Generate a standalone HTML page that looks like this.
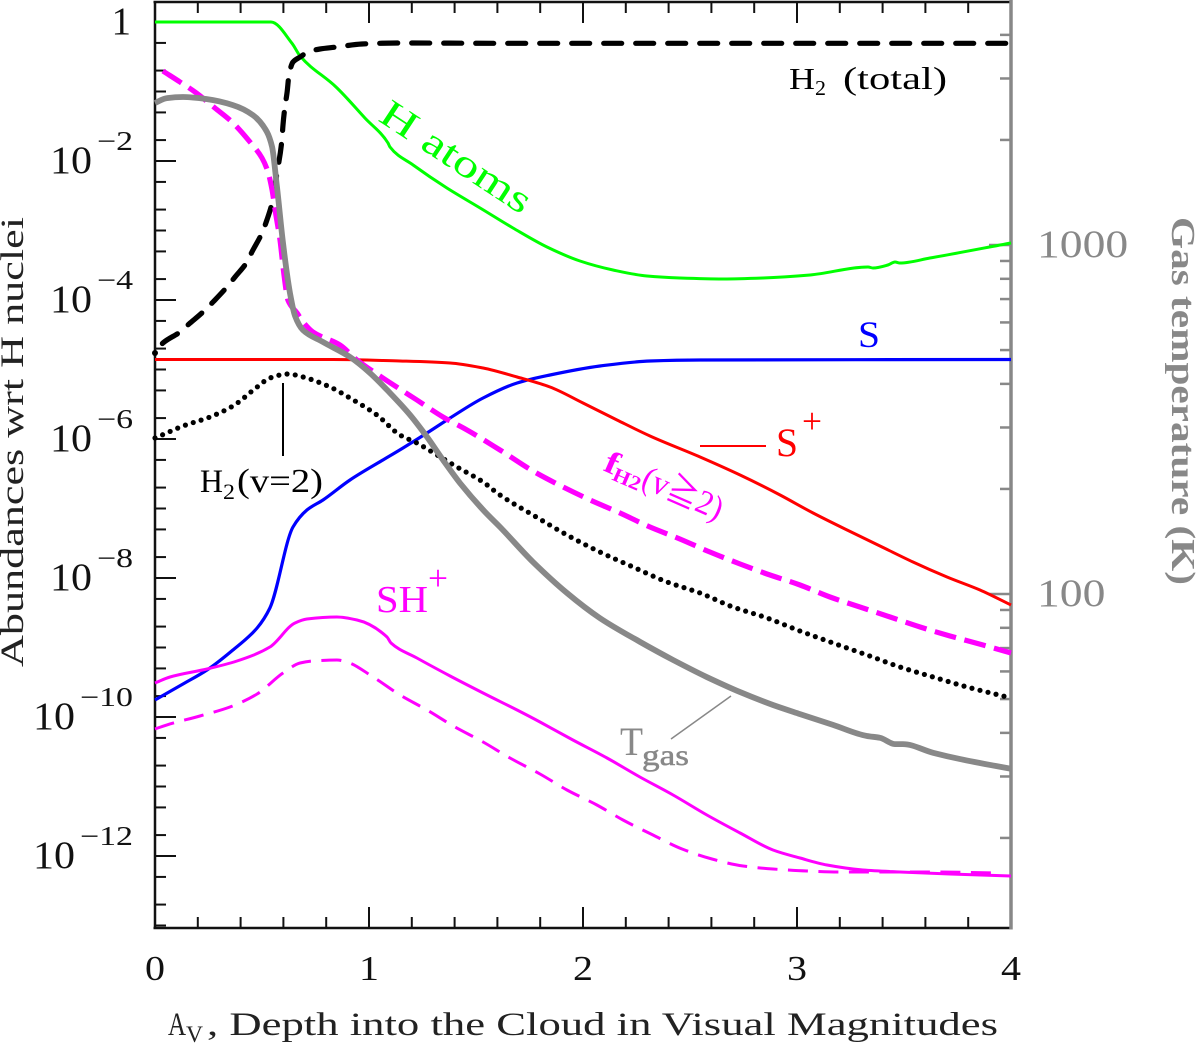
<!DOCTYPE html>
<html lang="en">
<head>
<meta charset="utf-8">
<title>Abundances vs depth into the cloud</title>
<style>
  html,body{margin:0;padding:0;background:#fff;width:1200px;height:1044px;overflow:hidden}
  svg{display:block}
  text{font-family:"Liberation Serif","DejaVu Serif","Noto Sans CJK JP",serif}
</style>
</head>
<body>
<svg id="chart" xmlns="http://www.w3.org/2000/svg" width="1200" height="1044" viewBox="0 0 1200 1044">
  <g id="ticks"></g>
  <g id="tick-labels"></g>
  <g id="series"></g>

  <text x="168" y="1035" font-size="33" fill="#222" textLength="18" lengthAdjust="spacingAndGlyphs">A</text>
  <text x="186" y="1042" font-size="23" fill="#222" textLength="17" lengthAdjust="spacingAndGlyphs">V</text>
  <text x="207" y="1035" font-size="33" fill="#222" textLength="791" lengthAdjust="spacingAndGlyphs">, Depth into the Cloud in Visual Magnitudes</text>

  <text transform="translate(23,667) rotate(-90)" font-size="33" fill="#222" textLength="450" lengthAdjust="spacingAndGlyphs">Abundances wrt H nuclei</text>
  <text transform="translate(1172,217) rotate(90)" font-size="34" font-weight="bold" fill="#888" textLength="368" lengthAdjust="spacingAndGlyphs">Gas temperature (K)</text>

  <g fill="#000">
    <text x="789" y="89" font-size="31" textLength="26" lengthAdjust="spacingAndGlyphs">H</text>
    <text x="815" y="95" font-size="21" textLength="11" lengthAdjust="spacingAndGlyphs">2</text>
    <text x="843" y="89" font-size="32" textLength="104" lengthAdjust="spacingAndGlyphs">(total)</text>
  </g>
  <text transform="translate(377,120) rotate(33.3)" font-size="39" fill="#00ff00" textLength="173" lengthAdjust="spacingAndGlyphs">H atoms</text>
  <text x="858" y="347" font-size="37" fill="#0000ff" textLength="22" lengthAdjust="spacingAndGlyphs">S</text>

  <g fill="#ff0000">
    <line x1="700" y1="446" x2="766" y2="446" stroke="#ff0000" stroke-width="2"/>
    <text x="776" y="456" font-size="40" textLength="22" lengthAdjust="spacingAndGlyphs">S</text>
    <text x="802" y="433" font-size="36" textLength="20" lengthAdjust="spacingAndGlyphs">+</text>
  </g>
  <g fill="#ff00ff">
    <text x="376" y="612" font-size="38" textLength="52" lengthAdjust="spacingAndGlyphs">SH</text>
    <text x="428" y="590" font-size="36" textLength="20" lengthAdjust="spacingAndGlyphs">+</text>
  </g>
  <g fill="#000">
    <line x1="283" y1="383" x2="283" y2="456" stroke="#000" stroke-width="2"/>
    <text x="200" y="492" font-size="33" textLength="23" lengthAdjust="spacingAndGlyphs">H</text>
    <text x="223" y="499" font-size="22" textLength="12" lengthAdjust="spacingAndGlyphs">2</text>
    <text x="237" y="492" font-size="34" textLength="86" lengthAdjust="spacingAndGlyphs">(v=2)</text>
  </g>
  <g fill="#ff00ff" transform="translate(602,470) rotate(23.6)">
    <text x="0" y="0" font-size="32" font-weight="bold" textLength="13" lengthAdjust="spacingAndGlyphs">f</text>
    <text x="12" y="5" font-size="20" font-weight="bold" textLength="29" lengthAdjust="spacingAndGlyphs">H2</text>
    <text x="41" y="0" font-size="34" textLength="85" lengthAdjust="spacingAndGlyphs">(v≧2)</text>
  </g>
  <g fill="#888">
    <line x1="671" y1="739" x2="731" y2="696" stroke="#888" stroke-width="1.5"/>
    <text x="620" y="755" font-size="40" textLength="23" lengthAdjust="spacingAndGlyphs">T</text>
    <text x="642" y="765" font-size="30" stroke="#888" stroke-width="0.5" textLength="47" lengthAdjust="spacingAndGlyphs">gas</text>
  </g>
</svg>
<script>
// ---- axis data ----
var xTickValues = [0,0.2,0.4,0.6,0.8,1,1.2,1.4,1.6,1.8,2,2.2,2.4,2.6,2.8,3,3.2,3.4,3.6,3.8,4];
var xTickLabels = [0,1,2,3,4];
var abundanceDecades = [0,-1,-2,-3,-4,-5,-6,-7,-8,-9,-10,-11,-12,-13];
var abundanceLabelExponents = [0,-2,-4,-6,-8,-10,-12];
var temperatureTicks = [4000,3000,2000,1000,900,800,700,600,500,400,300,200,100,90,80,70,60,50,40,30,20];
var temperatureLabels = [1000,100];

// ---- series data: Av (mag) and log10 abundance / log10 T ----
var hAtomsAv = [0,.542,.640,.678,.846,.981,1.089,1.098,1.206,1.364,1.519,1.673,1.832,1.986,2.140,2.299,2.453,2.654,2.841,3.061,3.332,3.355,3.425,3.458,3.481,3.621,4];
var hAtomsLog = [0,0,-.306,-.489,-.935,-1.381,-1.741,-1.799,-2.058,-2.388,-2.676,-2.964,-3.237,-3.439,-3.568,-3.655,-3.683,-3.698,-3.683,-3.640,-3.525,-3.540,-3.496,-3.453,-3.468,-3.396,-3.180];

var sAtomAv = [0,.131,.243,.364,.477,.537,.645,.710,.785,.911,1.065,1.159,1.271,1.379,1.533,1.692,1.846,2.079,2.313,2.547,4];
var sAtomLog = [-9.755,-9.525,-9.324,-9.036,-8.719,-8.432,-7.266,-7.022,-6.877,-6.590,-6.302,-6.129,-5.914,-5.698,-5.410,-5.194,-5.079,-4.950,-4.878,-4.863,-4.856];

var sPlusAv = [0,.832,1.145,1.379,1.533,1.692,1.846,2.0,2.159,2.313,2.547,2.734,2.921,3.075,3.234,3.388,3.542,3.701,3.855,4];
var sPlusLog = [-4.856,-4.856,-4.878,-4.906,-4.978,-5.108,-5.252,-5.482,-5.726,-5.957,-6.259,-6.518,-6.806,-7.065,-7.309,-7.539,-7.770,-7.986,-8.173,-8.388];

var h2v2Av = [0,.033,.131,.257,.364,.477,.537,.621,.692,.818,.911,1.037,1.145,1.224,1.318,1.411,1.533,1.612,1.766,1.925,2.079,2.234,2.393,2.547,2.701,2.860,3.014,3.168,3.327,3.481,3.636,3.795,4];
var h2v2Log = [-5.986,-5.942,-5.813,-5.683,-5.525,-5.252,-5.122,-5.065,-5.108,-5.252,-5.410,-5.655,-5.942,-6.057,-6.230,-6.403,-6.619,-6.806,-7.093,-7.381,-7.626,-7.842,-8.057,-8.216,-8.417,-8.575,-8.762,-8.935,-9.108,-9.280,-9.424,-9.568,-9.726];

var h2TotalAv = [0,.037,.117,.164,.224,.271,.336,.374,.430,.453,.500,.523,.547,.570,.593,.598,.607,.617,.626,.645,.678,.715,.771,.850,.967,1.145,1.612,4];
var h2TotalLog = [-4.762,-4.619,-4.460,-4.331,-4.173,-4.029,-3.813,-3.669,-3.453,-3.309,-3.036,-2.849,-2.604,-2.173,-1.698,-1.482,-1.223,-1.022,-.763,-.576,-.504,-.432,-.388,-.360,-.317,-.302,-.306,-.306];

var fH2Av = [.037,.117,.187,.280,.360,.444,.500,.528,.547,.565,.584,.603,.621,.664,.692,.738,.864,.944,1.065,1.224,1.346,1.458,1.612,1.766,1.907,2.033,2.173,2.313,2.453,2.593,2.734,2.860,3.014,3.154,3.294,3.435,3.575,3.715,3.869,4];
var fH2Log = [-.705,-.863,-1.007,-1.237,-1.439,-1.727,-1.957,-2.158,-2.417,-2.777,-3.137,-3.640,-4.0,-4.187,-4.316,-4.460,-4.647,-4.863,-5.122,-5.439,-5.683,-5.870,-6.158,-6.460,-6.690,-6.877,-7.065,-7.266,-7.439,-7.626,-7.798,-7.942,-8.101,-8.273,-8.417,-8.561,-8.705,-8.834,-8.964,-9.079];

var shPlusAv = [0,.070,.243,.383,.537,.654,.710,.850,.944,1.084,1.103,1.224,1.379,1.533,1.692,1.799,1.953,2.112,2.266,2.421,2.579,2.734,2.888,3.014,3.140,3.308,3.481,3.715,4];
var shPlusLog = [-9.511,-9.424,-9.309,-9.194,-8.993,-8.647,-8.590,-8.561,-8.604,-8.849,-8.935,-9.151,-9.410,-9.655,-9.899,-10.072,-10.331,-10.590,-10.863,-11.122,-11.410,-11.669,-11.914,-12.029,-12.129,-12.201,-12.230,-12.259,-12.288];

var shPlusDashAv = [0,.070,.210,.350,.477,.598,.678,.738,.850,.897,1.019,1.145,1.271,1.402,1.533,1.659,1.799,1.925,2.065,2.187,2.327,2.463,2.603,2.748,2.888,3.047,3.201,3.355,3.636,3.949];
var shPlusDashLog = [-10.172,-10.100,-9.985,-9.856,-9.669,-9.367,-9.223,-9.194,-9.180,-9.209,-9.424,-9.683,-9.899,-10.144,-10.359,-10.590,-10.820,-11.050,-11.266,-11.482,-11.698,-11.899,-12.043,-12.144,-12.187,-12.216,-12.230,-12.230,-12.230,-12.245];

var tGasAv = [0,.056,.131,.243,.364,.458,.523,.547,.570,.598,.631,.654,.692,.785,.911,1.005,1.098,1.192,1.271,1.346,1.425,1.533,1.612,1.766,1.925,2.079,2.266,2.421,2.579,2.734,2.888,3.014,3.168,3.327,3.388,3.458,3.495,3.636,3.762,4];
var tGasLogK = [3.407,3.421,3.424,3.418,3.401,3.372,3.324,3.281,3.166,3.006,2.862,2.797,2.756,2.722,2.679,2.633,2.576,2.513,2.450,2.384,2.318,2.241,2.192,2.092,2.003,1.931,1.863,1.811,1.762,1.719,1.682,1.656,1.625,1.593,1.588,1.570,1.570,1.545,1.527,1.499];

// ---- axis functions ----
function xAv(a){ return 155 + a * 214; }
function yAbund(l){ return 22 - l * 69.5; }
function yTemp(l){ return 245 + (3 - l) * 349; }

var NS = 'http://www.w3.org/2000/svg';
function svgEl(parent, tag, attrs){
  var el = document.createElementNS(NS, tag);
  for (var k in attrs) el.setAttribute(k, attrs[k]);
  parent.appendChild(el);
  return el;
}
function tickLine(parent, x1, y1, x2, y2, color, w){
  return svgEl(parent, 'line', {x1:x1, y1:y1, x2:x2, y2:y2, stroke:color, 'stroke-width':w});
}

var ticksG = document.getElementById('ticks');
var labelsG = document.getElementById('tick-labels');
var seriesG = document.getElementById('series');
var LEFT = xAv(0), RIGHT = xAv(4), TOP = 2, BOTTOM = 928;

// ---- x ticks (top and bottom) ----
xTickValues.forEach(function(v){
  var major = Math.abs(v - Math.round(v)) < 1e-6;
  var len = major ? 21 : 11;
  var px = xAv(v);
  var b = tickLine(ticksG, px, BOTTOM, px, BOTTOM - len, '#111', 2);
  
  
  var t = tickLine(ticksG, px, TOP, px, TOP + len, '#111', 2);
  
  
});

// ---- left ticks: 1, 0.5, 0.2 per decade ----
abundanceDecades.forEach(function(n){
  var major = n % 2 === 0;
  [n, n + Math.log10(0.5), n + Math.log10(0.2)].forEach(function(l, i){
    var py = yAbund(l);
    if (py > BOTTOM) return;
    var len = (i === 0 && major) ? 21 : 11;
    var el = tickLine(ticksG, LEFT, py, LEFT + len, py, '#111', 2);
    
    
  });
});

// ---- frame ----
var frameTop = tickLine(ticksG, LEFT - 1.5, TOP, RIGHT, TOP, '#111', 2.5);


var frameBottom = tickLine(ticksG, LEFT - 1.5, BOTTOM, RIGHT, BOTTOM, '#111', 2.5);


var frameLeft = tickLine(ticksG, LEFT, TOP, LEFT, BOTTOM + 1, '#111', 2.5);



// ---- right ticks and axis ----
temperatureTicks.forEach(function(T){
  var major = temperatureLabels.indexOf(T) >= 0;
  var py = yTemp(Math.log10(T));
  var el = tickLine(ticksG, RIGHT, py, RIGHT - (major ? 22 : 11), py, '#888', 2.5);
  
  
});
var frameRight = tickLine(ticksG, RIGHT, 0, RIGHT, BOTTOM + 1.5, '#888', 3.5);



// ---- tick labels ----
xTickLabels.forEach(function(v){
  var t = svgEl(labelsG, 'text', {x:xAv(v), y:980, 'font-size':35, 'text-anchor':'middle', fill:'#111', textLength:20, lengthAdjust:'spacingAndGlyphs'});
  t.textContent = String(v);
  
  
});
abundanceLabelExponents.forEach(function(e){
  var base = yAbund(e) + 12;
  if (e === 0) {
    var one = svgEl(labelsG, 'text', {x:131, y:34, 'font-size':39, 'text-anchor':'end', fill:'#111'});
    one.textContent = '1';
    
    
    return;
  }
  var digits = String(-e);
  var tenEnd = digits.length === 1 ? 92 : 75;
  var ten = svgEl(labelsG, 'text', {x:tenEnd - 42, y:base, 'font-size':39, fill:'#111', textLength:42, lengthAdjust:'spacingAndGlyphs'});
  ten.textContent = '10';
  
  
  var expStart = tenEnd + 5;
  var exp = svgEl(labelsG, 'text', {x:expStart, y:base - 23, 'font-size':27, fill:'#111', textLength:133 - expStart, lengthAdjust:'spacingAndGlyphs'});
  exp.textContent = '\u2212' + digits;
  
  
});
temperatureLabels.forEach(function(T){
  var s = String(T);
  var t = svgEl(labelsG, 'text', {x:1037, y:yTemp(Math.log10(T)) + 12, 'font-size':39, fill:'#888', textLength:s.length * 22.8, lengthAdjust:'spacingAndGlyphs'});
  t.textContent = s;
  
  
});

// ---- monotone cubic path through the mapped points ----
function monotonePath(xs, ys){
  var n = xs.length, m = [], d = [], i;
  for (i = 0; i < n - 1; i++) d[i] = (ys[i+1] - ys[i]) / (xs[i+1] - xs[i]);
  m[0] = d[0];
  m[n-1] = d[n-2];
  for (i = 1; i < n - 1; i++) {
    if (d[i-1] * d[i] <= 0) { m[i] = 0; continue; }
    var h0 = xs[i] - xs[i-1], h1 = xs[i+1] - xs[i];
    m[i] = 3 * (h0 + h1) / ((2 * h1 + h0) / d[i-1] + (h1 + 2 * h0) / d[i]);
  }
  var s = 'M' + xs[0].toFixed(1) + ',' + ys[0].toFixed(1);
  for (i = 0; i < n - 1; i++) {
    var h = (xs[i+1] - xs[i]) / 3;
    s += 'C' + (xs[i] + h).toFixed(1) + ',' + (ys[i] + m[i] * h).toFixed(1) + ' ' +
         (xs[i+1] - h).toFixed(1) + ',' + (ys[i+1] - m[i+1] * h).toFixed(1) + ' ' +
         xs[i+1].toFixed(1) + ',' + ys[i+1].toFixed(1);
  }
  return s;
}

// ---- series ----
function drawSeries(av, vals, yFn, style){
  var d = monotonePath(av.map(xAv), vals.map(yFn));
  var attrs = {d:d, fill:'none', stroke:style.color, 'stroke-width':style.width, 'stroke-linejoin':'round', 'stroke-linecap':style.cap || 'butt'};
  if (style.dash) attrs['stroke-dasharray'] = style.dash;
  if (style.offset) attrs['stroke-dashoffset'] = style.offset;
  return svgEl(seriesG, 'path', attrs);
}
var lineHAtoms = drawSeries(hAtomsAv, hAtomsLog, yAbund, {color:'#00ff00', width:3});


var lineS = drawSeries(sAtomAv, sAtomLog, yAbund, {color:'#0000ff', width:3.2});


var lineSPlus = drawSeries(sPlusAv, sPlusLog, yAbund, {color:'#ff0000', width:3});


var lineH2v2 = drawSeries(h2v2Av, h2v2Log, yAbund, {color:'#000', width:5.2, dash:'0 8.25', cap:'round'});


var lineH2 = drawSeries(h2TotalAv, h2TotalLog, yAbund, {color:'#000', width:5.2, dash:'18 14', offset:20, cap:'round'});


var startDot = svgEl(seriesG, 'circle', {cx:xAv(h2TotalAv[0]), cy:yAbund(h2TotalLog[0]), r:3, fill:'#000'});


var lineF = drawSeries(fH2Av, fH2Log, yAbund, {color:'#ff00ff', width:5.2, dash:'22 8.7'});


var lineSH = drawSeries(shPlusAv, shPlusLog, yAbund, {color:'#ff00ff', width:3});


var lineSHd = drawSeries(shPlusDashAv, shPlusDashLog, yAbund, {color:'#ff00ff', width:3, dash:'20 10.5'});


var lineT = drawSeries(tGasAv, tGasLogK, yTemp, {color:'#888', width:5.8});


</script>
</body>
</html>
